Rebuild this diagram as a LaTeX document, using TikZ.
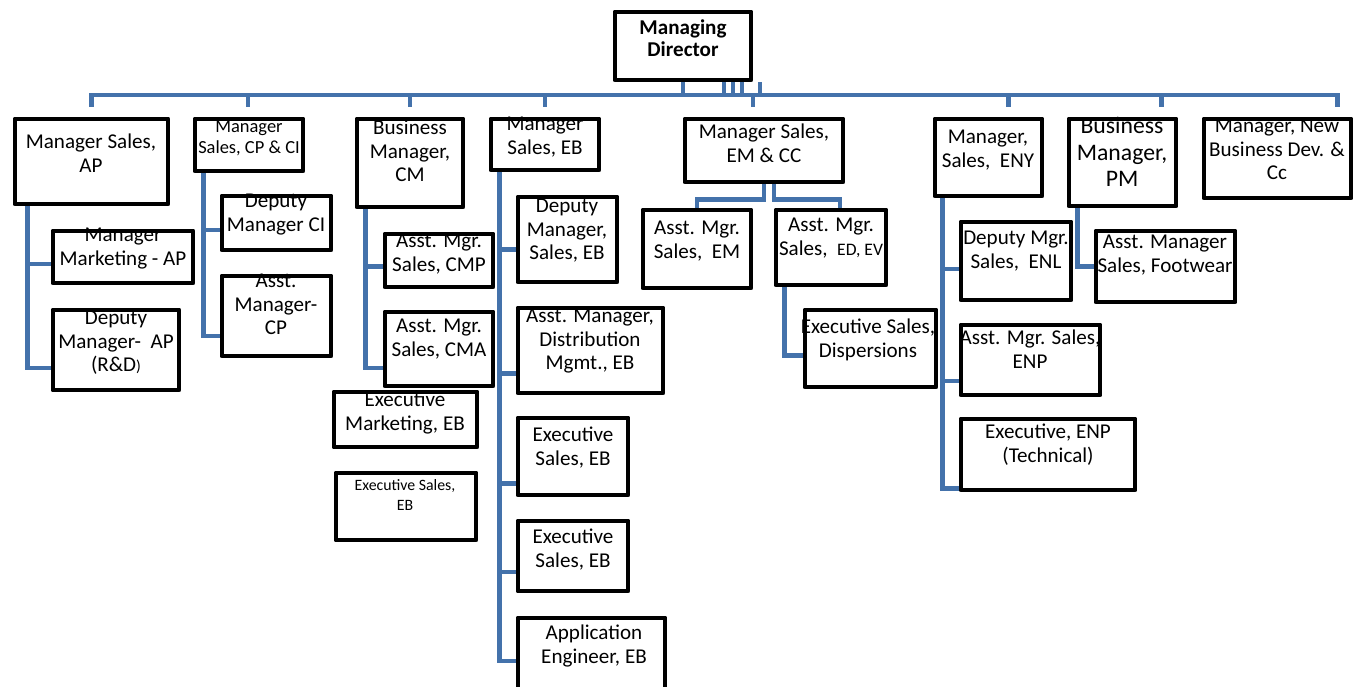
\documentclass[tikz,border=0pt]{standalone}
\usepackage{fontspec}
\setmainfont{Carlito}
\usetikzlibrary{fit,calc}
\definecolor{linkblue}{RGB}{68,114,171}

\begin{document}
\begin{tikzpicture}
        [x=0.02cm, y=-0.02cm,
        box/.style={draw, line width=2.8pt, inner sep=0pt, line join=round},
        txt/.style={anchor=north, align=center, inner sep=0pt, font=\fontsize{12}{13.2}\selectfont},
        small/.style={font=\fontsize{10.5}{12}\selectfont},
        tiny/.style={font=\fontsize{9}{11.4}\selectfont},
        big/.style={font=\fontsize{13.5}{15}\selectfont},
        conn/.style={linkblue, line width=2.6pt},
        stub/.style={linkblue, line width=1.8pt}]

        \useasboundingbox (0,0) rectangle (1358,686);

        % texts of the boxes
        \node[txt, font=\bfseries\fontsize{12}{12.5}\selectfont] (md-t) at (683,19) {Managing\\Director};
        \node[txt] (ap-t) at (91,134) {Manager Sales,\\AP};
        \node[txt, small] (cpci-t) at (249,120) {Manager\\Sales, CP \& CI};
        \node[txt] (cm-t) at (410,120) {Business\\Manager,\\CM};
        \node[txt] (eb-t) at (545,117) {Manager\\Sales, EB};
        \node[txt] (emcc-t) at (764,124) {Manager Sales,\\EM \& CC};
        \node[txt] (eny-t) at (988,130) {Manager,\\Sales,\ \ ENY};
        \node[txt, big] (pm-t) at (1122,117) {Business\\Manager,\\PM};
        \node[txt] (nbd-t) at (1277,119) {Manager, New\\Business Dev. \&\\Cc};

        \node[txt] (mkt-t) at (123,228) {Manager\\Marketing - AP};
        \node[txt] (depap-t) at (116,311) {Deputy\\Manager-\ \ AP\\(R\&D{\fontsize{9}{9}\selectfont)}};
        \node[txt] (depci-t) at (276,194) {Deputy\\Manager CI};
        \node[txt] (asstcp-t) at (276,274) {Asst.\\Manager-\\CP};
        \node[txt] (cmp-t) at (439,234) {Asst. Mgr.\\Sales, CMP};
        \node[txt] (cma-t) at (439,319) {Asst. Mgr.\\Sales, CMA};
        \node[txt] (exmkt-t) at (405,392) {Executive\\Marketing, EB};
        \node[txt, tiny] (exseb-t) at (405,479) {Executive Sales,\\EB};
        \node[txt] (depeb-t) at (567,199) {Deputy\\Manager,\\Sales, EB};
        \node[txt] (dist-t) at (590,309) {Asst. Manager,\\Distribution\\Mgmt., EB};
        \node[txt] (exs1-t) at (573,427) {Executive\\Sales, EB};
        \node[txt] (exs2-t) at (573,529) {Executive\\Sales, EB};
        \node[txt] (app-t) at (594,625) {Application\\Engineer, EB};
        \node[txt] (em-t) at (697,221) {Asst. Mgr.\\Sales,\ \ EM};
        \node[txt] (edev-t) at (831,218) {Asst. Mgr.\\Sales,\ \ {\fontsize{10}{10}\selectfont ED, EV}};
        \node[txt] (disp-t) at (868,319) {Executive Sales,\\Dispersions};
        \node[txt] (enl-t) at (1016,231) {Deputy Mgr.\\Sales,\ \ ENL};
        \node[txt] (enp-t) at (1030,330) {Asst. Mgr. Sales,\\ENP};
        \node[txt] (tech-t) at (1048,424) {Executive, ENP\\(Technical)};
        \node[txt] (foot-t) at (1165,235) {Asst. Manager\\Sales, Footwear};

        % boxes
        \node[box, fit={(615,12) (751,80)}] (md) {};
        \node[box, fit={(15,119) (168,204)}] (ap) {};
        \node[box, fit={(195,119) (303,171)}] (cpci) {};
        \node[box, fit={(357,119) (463,207)}] (cm) {};
        \node[box, fit={(491,119) (599,170)}] (eb) {};
        \node[box, fit={(685,119) (843,182)}] (emcc) {};
        \node[box, fit={(935,119) (1042,196)}] (eny) {};
        \node[box, fit={(1069,119) (1176,206)}] (pm) {};
        \node[box, fit={(1204,119) (1351,198)}] (nbd) {};

        \node[box, fit={(53,231) (193,283)}] (mkt) {};
        \node[box, fit={(53,310) (179,390)}] (depap) {};
        \node[box, fit={(222,196) (331,250)}] (depci) {};
        \node[box, fit={(222,276) (331,356)}] (asstcp) {};
        \node[box, fit={(385,234) (493,287)}] (cmp) {};
        \node[box, fit={(385,312) (493,386)}] (cma) {};
        \node[box, fit={(334,392) (477,447)}] (exmkt) {};
        \node[box, fit={(336,473) (476,540)}] (exseb) {};
        \node[box, fit={(518,197) (617,282)}] (depeb) {};
        \node[box, fit={(518,308) (663,393)}] (dist) {};
        \node[box, fit={(518,418) (628,495)}] (exs1) {};
        \node[box, fit={(518,521) (628,591)}] (exs2) {};
        \node[box, fit={(518,618) (665,700)}] (app) {};
        \node[box, fit={(643,210) (751,288)}] (em) {};
        \node[box, fit={(776,210) (886,285)}] (edev) {};
        \node[box, fit={(805,310) (936,387)}] (disp) {};
        \node[box, fit={(961,222) (1071,300)}] (enl) {};
        \node[box, fit={(961,325) (1100,395)}] (enp) {};
        \node[box, fit={(961,419) (1135,490)}] (tech) {};
        \node[box, fit={(1096,231) (1235,302)}] (foot) {};

        % connectors from the top
        \coordinate (bus) at (0,95);
        \draw[conn] (md.south) -- (md.south |- bus);
        \foreach \c/\dx in {ap/0, cpci/-1, cm/0, eb/0, emcc/-11, eny/20, pm/39, nbd/60}
            \draw[conn] (md.south |- bus) -| ($(\c.north)+(\dx,-10)$);
        \foreach \dx in {41,50,59,77}
            \draw[stub] ($(md.south)+(\dx,0)$) -- ++(0,13);

        % connectors inside the groups
        \foreach \c/\dy in {mkt/7, depap/18}
            \draw[conn] ($(ap.south west)+(15,0)$) |- ($(\c.west)+(0,\dy)$);
        \foreach \c/\dy in {depci/7, asstcp/20}
            \draw[conn] ($(cpci.south west)+(11,0)$) |- ($(\c.west)+(0,\dy)$);
        \foreach \c/\dy in {cmp/6, cma/19}
            \draw[conn] ($(cm.south west)+(11,0)$) |- ($(\c.west)+(0,\dy)$);
        \foreach \c/\dy in {depeb/10, dist/23, exs1/27, exs2/16, app/2}
            \draw[conn] ($(eb.south west)+(11,0)$) |- ($(\c.west)+(0,\dy)$);
        \draw[conn] (emcc.south) -- ++(0,15) -| (em.north);
        \draw[conn] ($(emcc.south)+(10,0)$) -- ++(0,15) -| ($(edev.north)+(9,0)$);
        \draw[conn] ($(edev.south west)+(11,0)$) |- ($(disp.west)+(0,7)$);
        \foreach \c/\dy in {enl/8, enp/21, tech/34}
            \draw[conn] ($(eny.south west)+(10,0)$) |- ($(\c.west)+(0,\dy)$);
        \draw[conn] ($(pm.south west)+(11,0)$) |- (foot.west);

\end{tikzpicture}
\end{document}
